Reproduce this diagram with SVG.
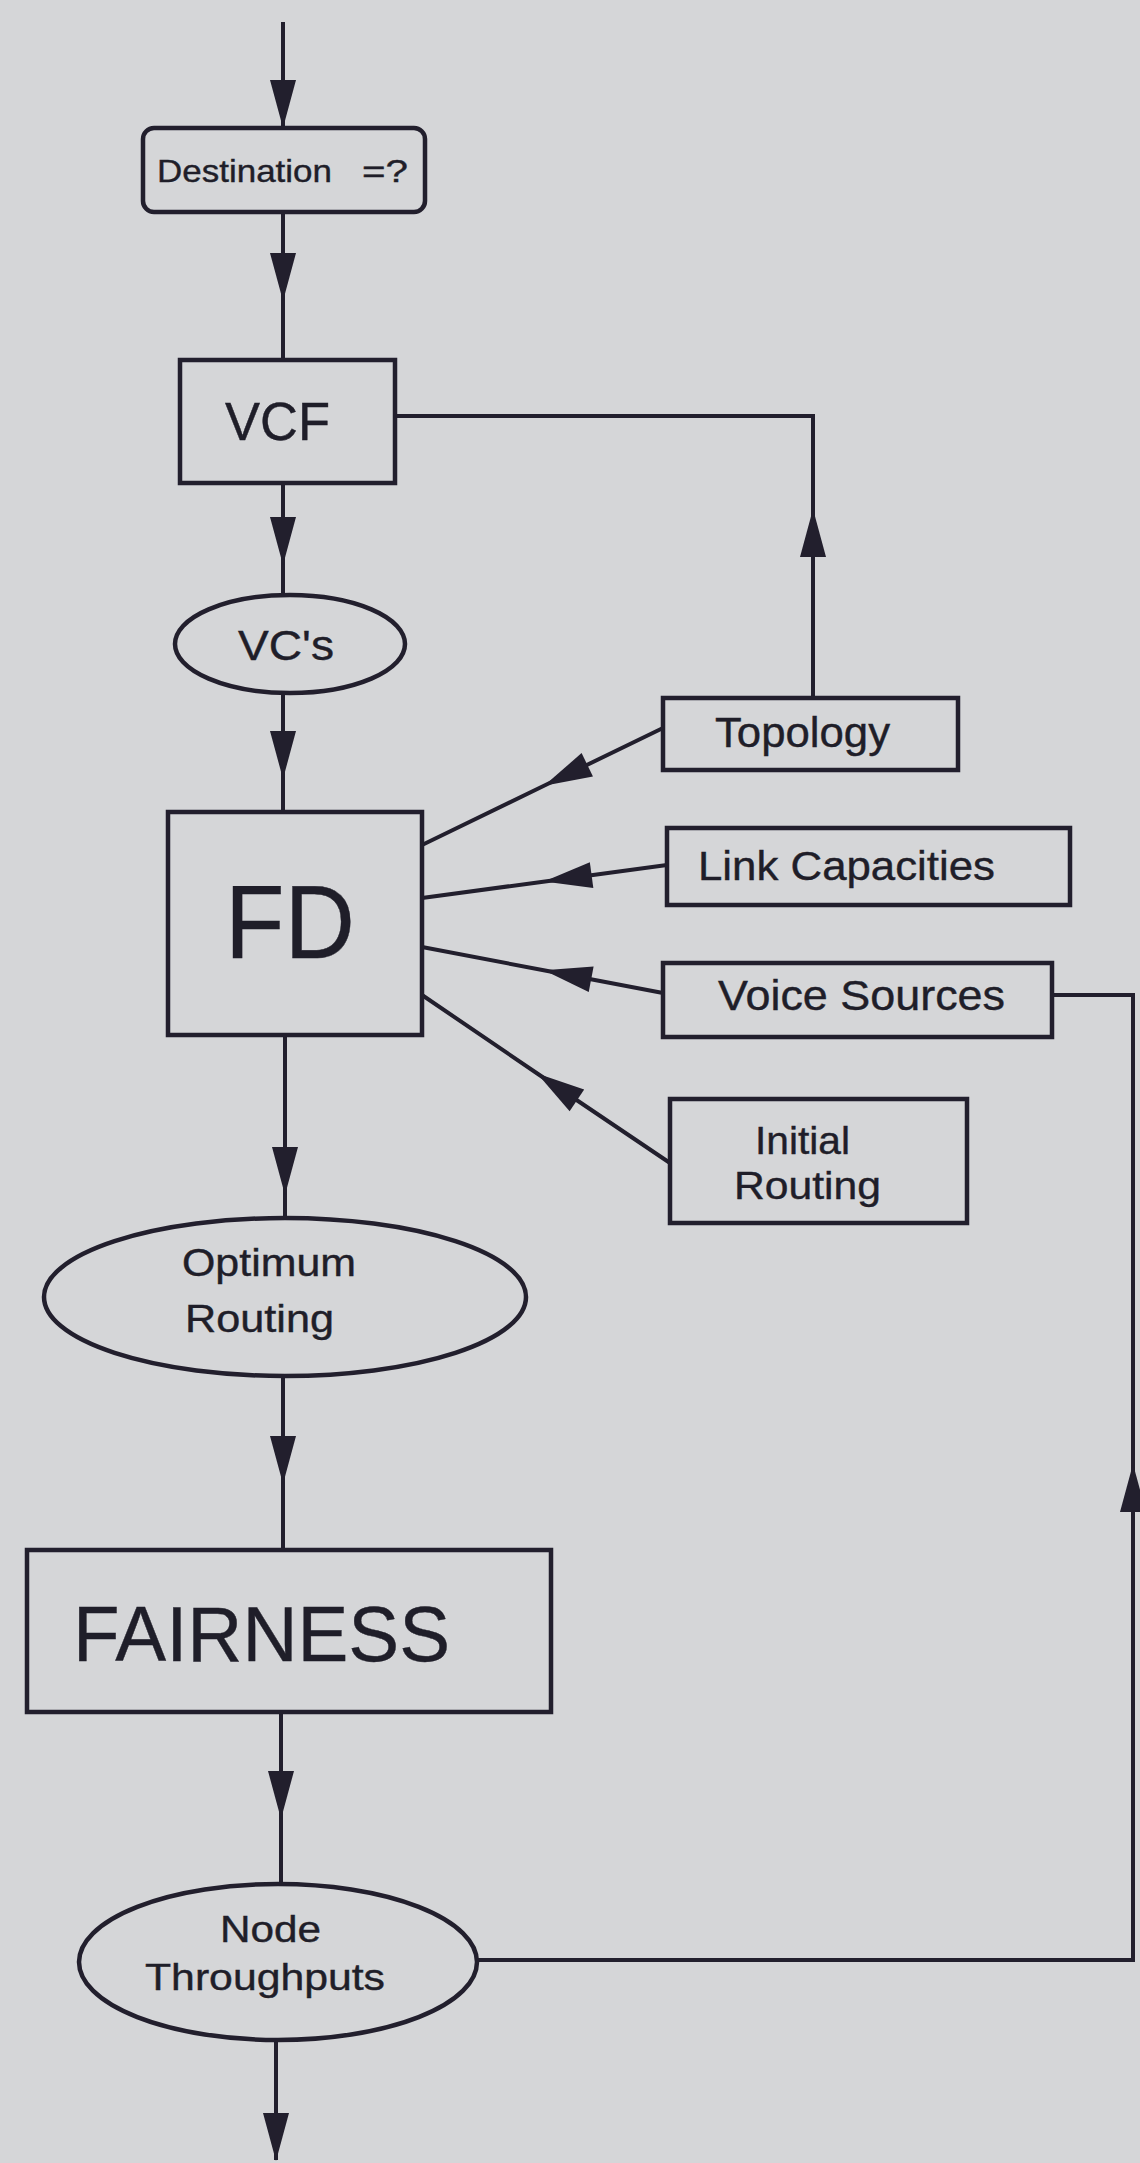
<svg xmlns="http://www.w3.org/2000/svg" width="1140" height="2163" viewBox="0 0 1140 2163">
  <style>
    .box { fill: none; stroke: #221f2d; stroke-width: 4.5; }
    .conn { fill: none; stroke: #221f2d; stroke-width: 4; }
    .lbl { font-family: "Liberation Sans", Arial, Helvetica, sans-serif; fill: #1f1e29; stroke: #1f1e29; stroke-width: 0.4; }
  </style>
  <defs>
    <!-- slim filled arrowhead, tip at the reference point -->
    <marker id="arrow" markerUnits="userSpaceOnUse" viewBox="-50 -15 52 30" markerWidth="52" markerHeight="30" refX="0" refY="0" orient="auto">
      <path d="M1,0 L-47,-13 L-47,13 Z" fill="#221f2d"/>
    </marker>
  </defs>

  <rect width="1140" height="2163" fill="#d5d6d8"/>

  <g id="connectors">
    <path class="conn" d="M283,22 L283,127" marker-end="url(#arrow)"/>
    <path class="conn" d="M283,212 L283,300 L283,360" marker-mid="url(#arrow)"/>
    <path class="conn" d="M283,483 L283,564 L283,595" marker-mid="url(#arrow)"/>
    <path class="conn" d="M283,693 L283,778 L283,812" marker-mid="url(#arrow)"/>
    <path class="conn" d="M285,1035 L285,1194 L285,1218" marker-mid="url(#arrow)"/>
    <path class="conn" d="M283,1376 L283,1483 L283,1550" marker-mid="url(#arrow)"/>
    <path class="conn" d="M281,1712 L281,1818 L281,1884" marker-mid="url(#arrow)"/>
    <path class="conn" d="M276,2040 L276,2160" marker-end="url(#arrow)"/>

    <!-- Topology back to VCF -->
    <path class="conn" d="M813,698 L813,510" marker-end="url(#arrow)"/>
    <path class="conn" d="M813,510 L813,416 L395,416"/>

    <!-- Node Throughputs back to Voice Sources -->
    <path class="conn" d="M478,1960 L1133,1960 L1133,1465" marker-end="url(#arrow)"/>
    <path class="conn" d="M1133,1465 L1133,995 L1052,995"/>

    <!-- inputs into FD -->
    <path class="conn" d="M663,728 L545,785.3 L422,845" marker-mid="url(#arrow)"/>
    <path class="conn" d="M667,865 L545,881.4 L422,898" marker-mid="url(#arrow)"/>
    <path class="conn" d="M663,993 L545,970.5 L422,947" marker-mid="url(#arrow)"/>
    <path class="conn" d="M670,1163 L538,1074 L422,995" marker-mid="url(#arrow)"/>
  </g>

  <g id="destination">
    <rect class="box" x="143" y="128" width="282" height="84" rx="11"/>
    <text class="lbl" x="157" y="182" font-size="32"><tspan textLength="175" lengthAdjust="spacingAndGlyphs">Destination</tspan> <tspan x="362" textLength="46" lengthAdjust="spacingAndGlyphs">=?</tspan></text>
  </g>

  <g id="vcf">
    <rect class="box" x="180" y="360" width="215" height="123"/>
    <text class="lbl" x="225" y="440" font-size="53" textLength="105" lengthAdjust="spacingAndGlyphs">VCF</text>
  </g>

  <g id="vcs">
    <ellipse class="box" cx="290" cy="644" rx="115" ry="49"/>
    <text class="lbl" x="238" y="660" font-size="42" textLength="96" lengthAdjust="spacingAndGlyphs">VC's</text>
  </g>

  <g id="fd">
    <rect class="box" x="168" y="812" width="254" height="223"/>
    <text class="lbl" x="225" y="958" font-size="104" textLength="130" lengthAdjust="spacingAndGlyphs">FD</text>
  </g>

  <g id="topology">
    <rect class="box" x="663" y="698" width="295" height="72"/>
    <text class="lbl" x="715" y="747" font-size="42" textLength="175" lengthAdjust="spacingAndGlyphs">Topology</text>
  </g>

  <g id="link-capacities">
    <rect class="box" x="667" y="828" width="403" height="77"/>
    <text class="lbl" x="698" y="880" font-size="41" textLength="297" lengthAdjust="spacingAndGlyphs">Link Capacities</text>
  </g>

  <g id="voice-sources">
    <rect class="box" x="663" y="963" width="389" height="74"/>
    <text class="lbl" x="718" y="1010" font-size="42" textLength="287" lengthAdjust="spacingAndGlyphs">Voice Sources</text>
  </g>

  <g id="initial-routing">
    <rect class="box" x="670" y="1099" width="297" height="124"/>
    <text class="lbl" x="755" y="1154" font-size="38" textLength="95" lengthAdjust="spacingAndGlyphs">Initial</text>
    <text class="lbl" x="734" y="1199" font-size="38" textLength="147" lengthAdjust="spacingAndGlyphs">Routing</text>
  </g>

  <g id="optimum-routing">
    <ellipse class="box" cx="285" cy="1297" rx="241" ry="79"/>
    <text class="lbl" x="182" y="1276" font-size="38" textLength="174" lengthAdjust="spacingAndGlyphs">Optimum</text>
    <text class="lbl" x="185" y="1332" font-size="38" textLength="149" lengthAdjust="spacingAndGlyphs">Routing</text>
  </g>

  <g id="fairness">
    <rect class="box" x="27" y="1550" width="524" height="162"/>
    <text class="lbl" x="73" y="1661" font-size="78" textLength="377" lengthAdjust="spacingAndGlyphs">FAIRNESS</text>
  </g>

  <g id="node-throughputs">
    <ellipse class="box" cx="278" cy="1962" rx="199" ry="78"/>
    <text class="lbl" x="220" y="1942" font-size="36" textLength="101" lengthAdjust="spacingAndGlyphs">Node</text>
    <text class="lbl" x="145" y="1990" font-size="36" textLength="240" lengthAdjust="spacingAndGlyphs">Throughputs</text>
  </g>
</svg>
